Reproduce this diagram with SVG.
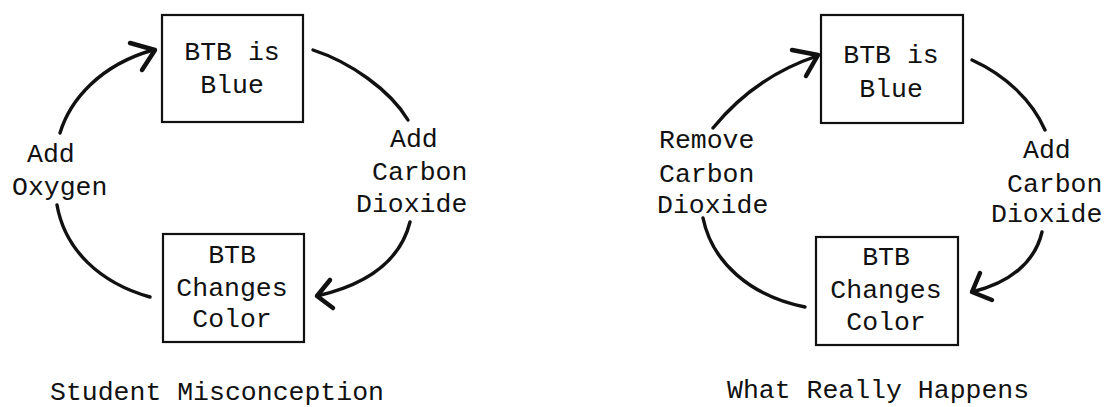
<svg xmlns="http://www.w3.org/2000/svg" width="1107" height="407" viewBox="0 0 1107 407">
<style>
.box{fill:#fff;stroke:#111;stroke-width:2.2}
text{font-family:"Liberation Mono","Courier New",monospace;font-size:26.5px;fill:#111}
.c{text-anchor:middle}
.arc{fill:none;stroke:#111;stroke-width:3.4;stroke-linecap:round}
.head{fill:none;stroke:#111;stroke-width:4.5;stroke-linecap:round;stroke-linejoin:round}
</style>
<rect width="1107" height="407" fill="#fff"/>
<g id="left-blue">
<rect class="box" x="162" y="15" width="141" height="107"/>
<text class="c" x="232" y="60">BTB is</text>
<text class="c" x="232" y="93">Blue</text>
</g>
<g id="left-changes">
<rect class="box" x="163" y="234" width="141" height="108"/>
<text class="c" x="232" y="263">BTB</text>
<text class="c" x="232" y="296">Changes</text>
<text class="c" x="232" y="327">Color</text>
</g>
<g id="right-blue">
<rect class="box" x="821" y="15" width="142" height="108"/>
<text class="c" x="891" y="63">BTB is</text>
<text class="c" x="891" y="97">Blue</text>
</g>
<g id="right-changes">
<rect class="box" x="816" y="237" width="142" height="108"/>
<text class="c" x="886" y="265">BTB</text>
<text class="c" x="886" y="298">Changes</text>
<text class="c" x="886" y="330">Color</text>
</g>
<g id="labels">
<text x="27" y="162">Add</text>
<text x="12" y="195">Oxygen</text>
<text x="390" y="147">Add</text>
<text x="372" y="180">Carbon</text>
<text x="356" y="212">Dioxide</text>
<text x="659" y="148">Remove</text>
<text x="659" y="182">Carbon</text>
<text x="657" y="213">Dioxide</text>
<text x="1023" y="158">Add</text>
<text x="1007" y="192">Carbon</text>
<text x="991" y="222">Dioxide</text>
<text x="50" y="400">Student Misconception</text>
<text x="727" y="398">What Really Happens</text>
</g>
<g id="connectors">
<path class="arc" d="M60,133 C70,100 100,65 153,50"/>
<polyline class="head" points="130,43 155,50 142,70"/>
<path class="arc" d="M57,205 C65,250 100,283 150,297"/>
<path class="arc" d="M313,50 C350,62 390,90 408,120"/>
<path class="arc" d="M410,222 C400,262 365,285 317,296"/>
<polyline class="head" points="330,280 317,296 333,308"/>
<path class="arc" d="M713,128 C740,95 775,70 817,56"/>
<polyline class="head" points="792,50 818,55 806,76"/>
<path class="arc" d="M703,218 C712,262 750,296 805,307"/>
<path class="arc" d="M972,60 C1005,75 1032,100 1045,130"/>
<path class="arc" d="M1042,232 C1035,262 1010,283 972,292"/>
<polyline class="head" points="980,273 972,292 992,300"/>
</g>
</svg>
